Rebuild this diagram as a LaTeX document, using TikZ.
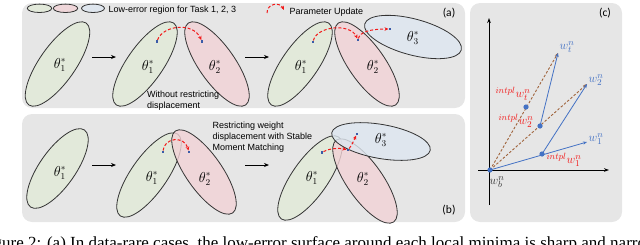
\documentclass[tikz,border=0pt]{standalone}
\usepackage{fontspec}
\setmainfont{Liberation Serif}
\setsansfont{Liberation Sans}
\newfontfamily\calib{Carlito}
\usetikzlibrary{arrows.meta}
\definecolor{panelgray}{HTML}{E6E6E6}
\definecolor{gfill}{HTML}{E2EAD8}
\definecolor{pfill}{HTML}{F2D2D6}
\definecolor{bfill}{HTML}{DEE7F0}
\definecolor{edge}{HTML}{333333}
\definecolor{wblue}{HTML}{4472C4}
\definecolor{ptblue}{HTML}{3A5BA8}
\definecolor{brownd}{HTML}{A0643C}
\definecolor{ured}{HTML}{F21A1A}
\begin{document}
\begin{tikzpicture}[x=1pt,y=-1pt,
  panel/.style={fill=panelgray,draw=none,rounded corners=10pt},
  ell/.style={draw=edge,line width=0.8pt,fill opacity=0.8},
  gell/.style={ell,fill=gfill},
  pell/.style={ell,fill=pfill},
  bell/.style={ell,fill=bfill},
  upd/.style={draw=ured,line width=1pt,dash pattern=on 3pt off 2pt,-{Stealth[length=4pt,width=3.6pt]}},
  sq/.style={rectangle,fill=ptblue,minimum size=2.6pt,inner sep=0pt},
  stage/.style={line width=0.9pt,-{Stealth[length=5pt,width=4pt]}},
  theta/.style={font=\fontsize{13.5}{13.5}\selectfont,inner sep=0pt},
  lbl/.style={font=\sffamily\fontsize{9}{10.8}\selectfont,align=left,inner sep=0pt},
  tag/.style={font=\calib\fontsize{11.5}{12}\selectfont,inner sep=0pt},
  dot/.style={circle,fill=wblue,minimum size=5.2pt,inner sep=0pt},
  bline/.style={draw=wblue,line width=0.8pt},
  barrow/.style={bline,-{Stealth[length=4pt,width=3.2pt]}},
  bdash/.style={draw=brownd,line width=0.9pt,dash pattern=on 2.5pt off 1.8pt,-{Stealth[length=4pt,width=3.2pt]}},
  axis/.style={line width=1pt,-{Stealth[length=5pt,width=3.6pt]}},
  wlab/.style={font=\fontsize{13}{13}\selectfont,inner sep=0pt}]
\useasboundingbox (0,0) rectangle (640,244);
\clip (0,0) rectangle (640,244);
% panels
\fill[panel] (22,3) rectangle (465,108);
\fill[panel] (22,114) rectangle (465,222);
\fill[panel] (470,3) rectangle (622,222);
% legend
\draw[gell] (39.5,8.3) ellipse [x radius=12.2,y radius=4.2];
\draw[pell] (65.5,8.3) ellipse [x radius=12.2,y radius=4.2];
\draw[bell] (93,8.3) ellipse [x radius=11.5,y radius=4.2];
\node[lbl,anchor=west] (legtxt) at (108.5,10.5) {Low-error region for Task 1, 2, 3};
\coordinate (lega) at (267,13);
\coordinate (legb) at (284,10);
\draw[upd] (lega) .. controls (267,3) and (280,2) .. (legb);
\node[lbl,anchor=west] (updtxt) at (289.5,12) {Parameter Update};
\node[tag] (taga) at (449,13) {(a)};
\node[tag] (tagb) at (449,210) {(b)};
\node[tag] (tagc) at (605,13) {(c)};
% ---------- panel (a)
\draw[gell,rotate around={55:(57.5,64)}] (57.5,64) ellipse [x radius=50,y radius=18];
\node[theta] (a1t1) at (60,65) {$\theta_1^*$};
\coordinate (a1s) at (92,57); \coordinate (a1e) at (116,57);
\draw[stage] (a1s) -- (a1e);
\draw[gell,rotate around={55:(145,64)}] (145,64) ellipse [x radius=50,y radius=18];
\draw[pell,rotate around={-55:(217,64)}] (217,64) ellipse [x radius=50,y radius=18];
\node[theta] (a2t1) at (148,67) {$\theta_1^*$};
\node[theta] (a2t2) at (215,67) {$\theta_2^*$};
\node[sq] (a2p) at (157,41.5) {};
\node[sq] (a2q) at (202,41.5) {};
\draw[upd] (a2p) .. controls (163,25) and (193,22) .. (a2q);
\node[lbl,anchor=west] (atxt) at (147,100.5) {Without restricting\\displacement};
\coordinate (a2s) at (245,57); \coordinate (a2e) at (269,57);
\draw[stage] (a2s) -- (a2e);
\draw[gell,rotate around={55:(300,64)}] (300,64) ellipse [x radius=50,y radius=18];
\draw[pell,rotate around={-55:(367,64)}] (367,64) ellipse [x radius=50,y radius=18];
\draw[bell,rotate around={-15:(413,37)}] (413,37) ellipse [x radius=50,y radius=18];
\node[theta] (a3t1) at (301,67) {$\theta_1^*$};
\node[theta] (a3t2) at (373,67) {$\theta_2^*$};
\node[theta] (a3t3) at (413,38) {$\theta_3^*$};
\node[sq] (a3p) at (313,42) {};
\node[sq] (a3q) at (358,40) {};
\node[sq] (a3r) at (390,29) {};
\draw[upd] (a3p) .. controls (317,26) and (350,23) .. (a3q);
\draw[upd] (a3q) .. controls (360,32) and (370,29) .. (a3r);
% ---------- panel (b)
\draw[gell,rotate around={55:(57.5,168.5)}] (57.5,168.5) ellipse [x radius=47,y radius=18];
\node[theta] (b1t1) at (60,173) {$\theta_1^*$};
\coordinate (b1s) at (92,165); \coordinate (b1e) at (116,165);
\draw[stage] (b1s) -- (b1e);
\draw[gell,rotate around={55:(149,175)}] (149,175) ellipse [x radius=50,y radius=18];
\draw[pell,rotate around={-55:(204,172)}] (204,172) ellipse [x radius=50,y radius=18];
\node[theta] (b2t1) at (152,178) {$\theta_1^*$};
\node[theta] (b2t2) at (205,179) {$\theta_2^*$};
\node[sq] (b2p) at (163,152) {};
\node[sq] (b2q) at (189,152) {};
\draw[upd] (b2p) .. controls (164,138) and (184,135) .. (b2q);
\node[lbl,anchor=west] (btxt) at (212.5,137) {Restricting weight\\displacement with Stable\\Moment Matching};
\coordinate (b2s) at (245,165); \coordinate (b2e) at (269,165);
\draw[stage] (b2s) -- (b2e);
\draw[gell,rotate around={55:(310,178)}] (310,178) ellipse [x radius=50,y radius=18];
\draw[pell,rotate around={-55:(365,181)}] (365,181) ellipse [x radius=50,y radius=18];
\draw[bell,rotate around={-10:(381,141.5)}] (381,141.5) ellipse [x radius=50,y radius=17];
\node[theta] (b3t1) at (312,178) {$\theta_1^*$};
\node[theta] (b3t2) at (363,179) {$\theta_2^*$};
\node[theta] (b3t3) at (381,140) {$\theta_3^*$};
\node[sq] (b3p) at (322,152.5) {};
\node[sq] (b3q) at (348,150) {};
\node[sq] (b3r) at (357,134) {};
\draw[upd] (b3p) .. controls (330,148) and (340,148) .. (b3q);
\draw[upd] (b3q) .. controls (352,145) and (354,140) .. (b3r);
% ---------- panel (c)
\coordinate (yb) at (489,205); \coordinate (yt) at (489,18);
\coordinate (xl) at (478,170); \coordinate (xr) at (609,170);
\draw[axis] (yb) -- (yt);
\draw[axis] (xl) -- (xr);
\coordinate (O) at (490,170);
\coordinate (Wt) at (558,53);
\coordinate (W2) at (587,84);
\coordinate (W1) at (587,142);
\coordinate (I1) at (542,154);
\coordinate (I2) at (540,126);
\coordinate (It) at (526,107);
\draw[bdash] (O) -- (Wt);
\draw[bdash] (O) -- (W2);
\draw[barrow] (O) -- (W1);
\draw[barrow] (I1) -- (W2);
\draw[barrow] (I2) -- (Wt);
\node[dot] (dO) at (O) {};
\node[dot] (d1) at (I1) {};
\node[dot] (d2) at (I2) {};
\node[dot] (dt) at (It) {};
\node[wlab,text=wblue] (lwt) at (567,47) {$w_t^n$};
\node[wlab,text=wblue] (lw2) at (596,80) {$w_2^n$};
\node[wlab,text=wblue] (lw1) at (596,139) {$w_1^n$};
\node[wlab,text=ured] (liwt) at (513,94) {${}^{intpl}w_t^n$};
\node[wlab,text=ured] (liw2) at (516,121) {${}^{intpl}w_2^n$};
\node[wlab,text=ured] (liw1) at (564,160) {${}^{intpl}w_1^n$};
\node[wlab,text=edge] (lwb) at (497,182) {$w_b^n$};
% caption (cut off by the picture edge)
\node[anchor=base west,inner sep=0pt,font=\fontsize{17}{17}\selectfont] (cap) at (2,248.5) {\llap{Fig}ure 2: (a) In data-rare cases, the low-error surface around each local minima is sharp and narrow};
\end{tikzpicture}
\end{document}
